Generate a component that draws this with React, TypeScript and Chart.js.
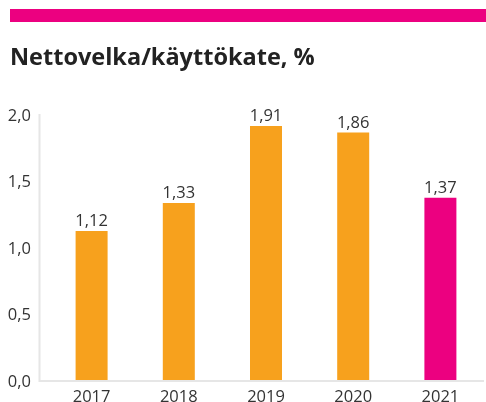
import React, { useEffect, useRef } from "react";
import { Chart, registerables } from "chart.js";

Chart.register(...registerables);

const categories = ["2017", "2018", "2019", "2020", "2021"];
const values = [1.12, 1.33, 1.91, 1.86, 1.37];
const barColors = ["#F7A11D", "#F7A11D", "#F7A11D", "#F7A11D", "#EC0080"];
const yTicks = [0, 0.5, 1.0, 1.5, 2.0];
const titleText = "Nettovelka/käyttökate, %";

const FONT = "'Open Sans', sans-serif";
const fmt = (v: number, d: number) => v.toFixed(d).replace(".", ",");

const decorPlugin = {
  id: "decor",
  beforeDraw(chart: any) {
    const ctx = chart.ctx;
    ctx.save();
    ctx.fillStyle = "#EC0080";
    ctx.fillRect(10, 9, 476, 13);
    ctx.fillStyle = "#222222";
    ctx.font = `bold 23.5px ${FONT}`;
    ctx.textBaseline = "alphabetic";
    ctx.textAlign = "left";
    ctx.fillText(titleText, 10, 64.5);
    ctx.restore();
  },
  beforeDatasetsDraw(chart: any) {
    const { ctx, chartArea } = chart;
    ctx.save();
    ctx.strokeStyle = "#E6E6E6";
    ctx.lineWidth = 2;
    ctx.beginPath();
    ctx.moveTo(chartArea.left - 8.5, chartArea.top);
    ctx.lineTo(chartArea.left - 8.5, chartArea.bottom + 1);
    ctx.lineTo(chartArea.right, chartArea.bottom + 1);
    ctx.stroke();
    ctx.restore();
  },
  afterDatasetsDraw(chart: any) {
    const ctx = chart.ctx;
    const meta = chart.getDatasetMeta(0);
    ctx.save();
    ctx.fillStyle = "#333333";
    ctx.font = `16.5px ${FONT}`;
    ctx.textAlign = "center";
    ctx.textBaseline = "alphabetic";
    meta.data.forEach((el: any, i: number) => {
      ctx.fillText(fmt(values[i], 2), el.x, el.y - 5);
    });
    ctx.restore();
  },
};

export default function App() {
  const ref = useRef<HTMLCanvasElement>(null);
  useEffect(() => {
    const chart = new Chart(ref.current!, {
      type: "bar",
      data: {
        labels: categories,
        datasets: [
          {
            data: values,
            backgroundColor: barColors,
            barPercentage: 0.367,
            categoryPercentage: 1,
          },
        ],
      },
      options: {
        responsive: false,
        animation: false,
        devicePixelRatio: 1,
        layout: { padding: { top: 114, right: 2, left: 0, bottom: 0 } },
        plugins: { legend: { display: false }, tooltip: { enabled: false } },
        scales: {
          x: {
            grid: { display: false, drawTicks: false },
            border: { display: false },
            ticks: { color: "#333333", font: { family: FONT, size: 16.5 }, padding: 7 },
            afterFit: (s: any) => {
              s.height = 22;
              s.paddingLeft = 0;
              s.paddingRight = 0;
            },
          },
          y: {
            min: 0,
            max: 2,
            afterBuildTicks: (s: any) => {
              s.ticks = yTicks.map((v) => ({ value: v }));
            },
            grid: { display: false, drawTicks: false },
            border: { display: false },
            ticks: {
              color: "#333333",
              font: { family: FONT, size: 16.5 },
              padding: 17,
              labelOffset: 2,
              callback: (v: any) => fmt(Number(v), 1),
            },
            afterFit: (s: any) => {
              s.width = 48;
              s.paddingTop = 0;
              s.paddingBottom = 0;
            },
          },
        },
      },
      plugins: [decorPlugin],
    });
    return () => chart.destroy();
  }, []);
  return (
    <div style={{ position: "fixed", left: 0, top: 0, width: 486, height: 402, background: "#fff" }}>
      <canvas ref={ref} width={486} height={402} style={{ display: "block" }} />
    </div>
  );
}
